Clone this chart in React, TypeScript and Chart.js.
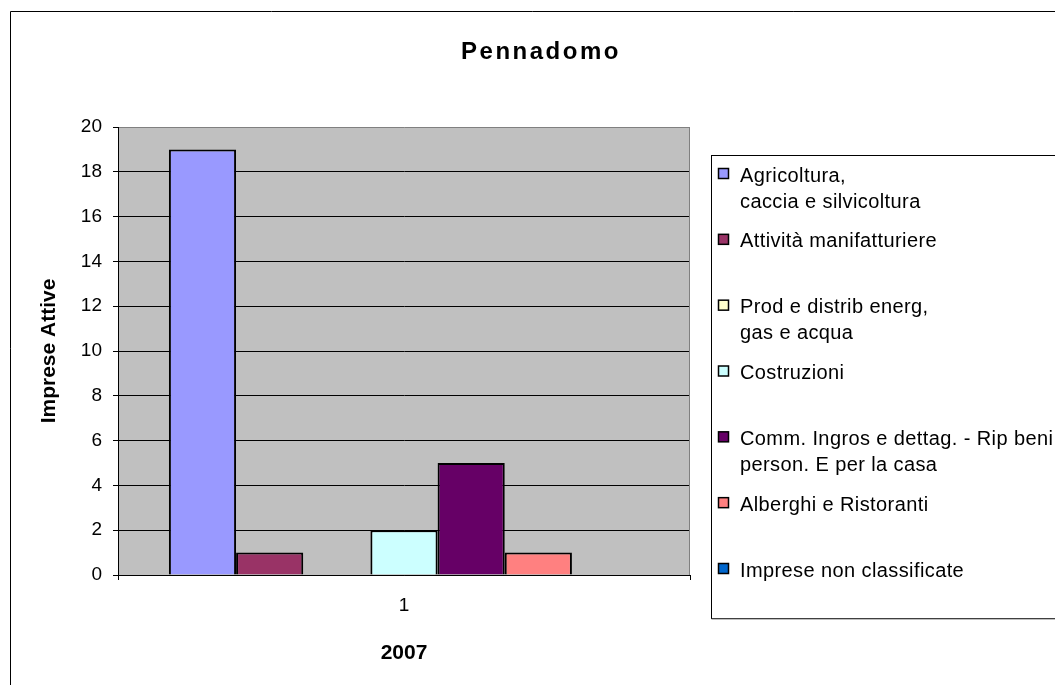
import React, { useEffect, useRef } from "react";
import { Chart, registerables } from "chart.js";

Chart.register(...registerables);

const chartTitle = "Pennadomo";
const yAxisTitle = "Imprese Attive";
const xAxisTitle = "2007";
const categories = ["1"];
const seriesLabels: string[][] = [
  ["Agricoltura,", "caccia e silvicoltura"],
  ["Attività manifatturiere"],
  ["Prod e distrib energ,", "gas e acqua"],
  ["Costruzioni"],
  ["Comm. Ingros e dettag. - Rip beni", "person. E per la casa"],
  ["Alberghi e Ristoranti"],
  ["Imprese non classificate"],
];
const seriesValues: number[][] = [[19], [1], [0], [2], [5], [1], [0]];
const seriesColors = ["#9999FF", "#993366", "#FFFFCC", "#CCFFFF", "#660066", "#FF8080", "#0066CC"];
const yMin = 0;
const yMax = 20;
const yStep = 2;

const FONT = "'Liberation Sans', Arial, sans-serif";

const decorPlugin = {
  id: "decor",
  beforeDraw(chart: any) {
    const { ctx, chartArea: a, width, height } = chart;
    ctx.save();
    ctx.fillStyle = "#ffffff";
    ctx.fillRect(0, 0, width, height);
    ctx.strokeStyle = "#000000";
    ctx.lineWidth = 1;
    ctx.beginPath();
    ctx.moveTo(10.5, height);
    ctx.lineTo(10.5, 11.5);
    ctx.lineTo(width, 11.5);
    ctx.stroke();
    ctx.fillStyle = "#C0C0C0";
    ctx.fillRect(a.left, a.top, a.right - a.left, a.bottom - a.top);
    ctx.fillStyle = "#000000";
    ctx.font = `bold 24px ${FONT}`;
    (ctx as any).letterSpacing = "2.5px";
    ctx.textAlign = "center";
    ctx.textBaseline = "alphabetic";
    ctx.fillText(chartTitle, 541, 59);
    (ctx as any).letterSpacing = "0px";
    ctx.restore();
  },
  afterDraw(chart: any) {
    const { ctx, chartArea: a } = chart;
    ctx.save();
    // plot-area right border
    ctx.strokeStyle = "#808080";
    ctx.lineWidth = 1;
    ctx.beginPath();
    ctx.moveTo(a.right - 0.5, a.top);
    ctx.lineTo(a.right - 0.5, a.bottom);
    ctx.stroke();

    // legend
    const lx = 711.5;
    const ly = 155.5;
    ctx.fillStyle = "#ffffff";
    ctx.fillRect(lx, ly, 400, 463);
    ctx.strokeStyle = "#000000";
    ctx.strokeRect(lx, ly, 400, 463);
    ctx.strokeStyle = "#808080";
    ctx.beginPath();
    ctx.moveTo(lx, ly + 463.5);
    ctx.lineTo(1055, ly + 463.5);
    ctx.stroke();

    ctx.font = `20px ${FONT}`;
    (ctx as any).letterSpacing = "0.4px";
    ctx.textAlign = "left";
    ctx.textBaseline = "middle";
    const n = chart.data.datasets.length;
    const firstY = 176;
    const lastY = 571;
    const step = (lastY - firstY) / (n - 1);
    chart.data.datasets.forEach((ds: any, i: number) => {
      const y = firstY + i * step;
      ctx.fillStyle = ds.backgroundColor;
      ctx.fillRect(718.5, y - 7.5, 10, 10);
      ctx.strokeStyle = "#000000";
      ctx.lineWidth = 1.5;
      ctx.strokeRect(718.5, y - 7.5, 10, 10);
      ctx.fillStyle = "#000000";
      const lines: string[] = Array.isArray(ds.label) ? ds.label : seriesLabels[i];
      lines.forEach((t, j) => ctx.fillText(t, 740, y + j * 26));
    });
    (ctx as any).letterSpacing = "0px";
    ctx.restore();
  },
};

export default function App() {
  const ref = useRef<HTMLCanvasElement | null>(null);
  useEffect(() => {
    if (!ref.current) return;
    const chart = new Chart(ref.current, {
      type: "bar",
      data: {
        labels: categories,
        datasets: seriesLabels.map((lab, i) => ({
          label: lab as any,
          data: seriesValues[i],
          backgroundColor: seriesColors[i],
          borderColor: "#000000",
          borderWidth: 2,
          barPercentage: 1,
          categoryPercentage: 0.822,
        })),
      },
      options: {
        responsive: false,
        animation: false,
        layout: { padding: { left: 30, top: 127, right: 365, bottom: 10 } },
        plugins: {
          legend: { display: false },
          title: { display: false },
          tooltip: { enabled: false },
        },
        scales: {
          x: {
            afterFit: (s: any) => {
              s.height = 100;
            },
            grid: {
              display: true,
              drawOnChartArea: false,
              offset: true,
              tickLength: 5,
              color: "#000000",
            },
            border: { color: "#000000", width: 1 },
            ticks: { color: "#000000", padding: 14, font: { family: FONT, size: 19 } },
            title: {
              display: true,
              text: xAxisTitle,
              color: "#000000",
              padding: { top: 0, bottom: 9 },
              font: { family: FONT, size: 21, weight: "bold" },
            },
          },
          y: {
            min: yMin,
            max: yMax,
            afterFit: (s: any) => {
              s.width = 88;
            },
            grid: {
              color: (c: any) => (c.tick && c.tick.value === yMax ? "#808080" : "#000000"),
              tickColor: "#000000",
              tickLength: 5,
              lineWidth: 1,
            },
            border: { color: "#000000", width: 1 },
            ticks: {
              stepSize: yStep,
              color: "#000000",
              padding: 11,
              font: { family: FONT, size: 19 },
            },
            title: {
              display: true,
              text: yAxisTitle,
              color: "#000000",
              padding: { top: 7, bottom: 0 },
              font: { family: FONT, size: 21, weight: "bold" },
            },
          },
        },
      },
      plugins: [decorPlugin],
    });
    return () => chart.destroy();
  }, []);
  return (
    <div style={{ position: "fixed", left: 0, top: 0, width: 1055, height: 685 }}>
      <canvas ref={ref} width={1055} height={685} />
    </div>
  );
}
